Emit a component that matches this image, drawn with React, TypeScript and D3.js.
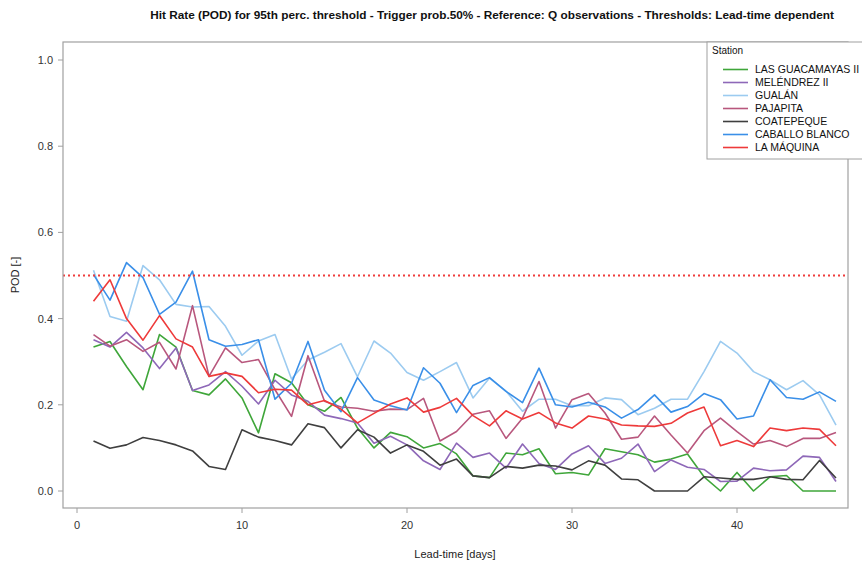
import React from "react";
import * as d3 from "d3";

const leadTimes = d3.range(1, 47);

const stations = [
  "LAS GUACAMAYAS II",
  "MELÉNDREZ II",
  "GUALÁN",
  "PAJAPITA",
  "COATEPEQUE",
  "CABALLO BLANCO",
  "LA MÁQUINA",
];

const colors = ["#3FA63A", "#8E68B8", "#9CCBF0", "#B8577D", "#3F3F3F", "#3A8FE8", "#EE3A3A"];

const guacamayas = [0.334, 0.347, 0.289, 0.235, 0.363, 0.334, 0.233, 0.223, 0.26, 0.216, 0.135, 0.272, 0.251, 0.2, 0.185, 0.217, 0.146, 0.1, 0.136, 0.126, 0.1, 0.11, 0.086, 0.035, 0.031, 0.088, 0.084, 0.098, 0.04, 0.043, 0.037, 0.098, 0.091, 0.084, 0.067, 0.074, 0.086, 0.033, 0, 0.043, 0, 0.033, 0.036, 0, 0, 0];
const melendrez = [0.351, 0.334, 0.368, 0.332, 0.284, 0.332, 0.233, 0.246, 0.277, 0.243, 0.202, 0.257, 0.223, 0.208, 0.176, 0.168, 0.158, 0.111, 0.127, 0.107, 0.07, 0.05, 0.111, 0.078, 0.088, 0.053, 0.109, 0.064, 0.05, 0.086, 0.105, 0.064, 0.076, 0.109, 0.045, 0.072, 0.055, 0.05, 0.022, 0.023, 0.053, 0.047, 0.049, 0.081, 0.078, 0.022];
const gualan = [0.512, 0.405, 0.394, 0.523, 0.49, 0.433, 0.427, 0.428, 0.382, 0.315, 0.348, 0.363, 0.26, 0.304, 0.322, 0.342, 0.265, 0.348, 0.32, 0.275, 0.257, 0.277, 0.298, 0.216, 0.262, 0.232, 0.185, 0.213, 0.213, 0.198, 0.198, 0.216, 0.212, 0.177, 0.192, 0.213, 0.213, 0.277, 0.347, 0.32, 0.277, 0.258, 0.235, 0.256, 0.223, 0.153];
const pajapita = [0.363, 0.336, 0.351, 0.324, 0.345, 0.283, 0.43, 0.266, 0.332, 0.298, 0.305, 0.235, 0.173, 0.314, 0.208, 0.195, 0.192, 0.185, 0.19, 0.189, 0.215, 0.116, 0.138, 0.178, 0.186, 0.122, 0.169, 0.254, 0.146, 0.212, 0.226, 0.181, 0.12, 0.125, 0.174, 0.13, 0.088, 0.14, 0.169, 0.138, 0.109, 0.117, 0.103, 0.122, 0.122, 0.136];
const coatepeque = [0.116, 0.099, 0.107, 0.124, 0.117, 0.107, 0.093, 0.057, 0.05, 0.142, 0.125, 0.117, 0.107, 0.156, 0.147, 0.1, 0.142, 0.125, 0.088, 0.107, 0.092, 0.06, 0.074, 0.035, 0.031, 0.057, 0.053, 0.06, 0.058, 0.049, 0.07, 0.06, 0.028, 0.026, 0, 0, 0, 0.033, 0.03, 0.027, 0.027, 0.033, 0.027, 0.026, 0.071, 0.03];
const caballo = [0.502, 0.443, 0.53, 0.495, 0.41, 0.438, 0.51, 0.351, 0.336, 0.34, 0.351, 0.213, 0.25, 0.347, 0.234, 0.184, 0.263, 0.211, 0.198, 0.188, 0.286, 0.25, 0.182, 0.245, 0.263, 0.231, 0.205, 0.285, 0.2, 0.195, 0.206, 0.195, 0.169, 0.189, 0.223, 0.183, 0.196, 0.226, 0.212, 0.167, 0.174, 0.258, 0.217, 0.213, 0.23, 0.208];
const maquina = [0.44, 0.49, 0.4, 0.35, 0.407, 0.353, 0.334, 0.266, 0.274, 0.266, 0.228, 0.236, 0.234, 0.2, 0.21, 0.19, 0.158, 0.18, 0.202, 0.216, 0.183, 0.194, 0.215, 0.175, 0.151, 0.186, 0.167, 0.182, 0.158, 0.146, 0.174, 0.167, 0.153, 0.151, 0.15, 0.157, 0.181, 0.195, 0.105, 0.117, 0.103, 0.146, 0.14, 0.146, 0.143, 0.105];

const seriesValues = [guacamayas, melendrez, gualan, pajapita, coatepeque, caballo, maquina];

const xTicks = [0, 10, 20, 30, 40];
const yTicks = [0, 0.2, 0.4, 0.6, 0.8, 1.0];
const triggerLine = 0.5;

const W = 862;
const H = 568;
const frame = { left: 63, right: 848, top: 42, bottom: 508 };

export default function App() {
  const x = d3.scaleLinear().domain([0, 40]).range([77, 737]);
  const y = d3.scaleLinear().domain([0, 1]).range([491, 60]);
  const line = d3
    .line<number>()
    .x((_, i) => x(leadTimes[i]))
    .y((v) => y(v));
  const font = "Liberation Sans, Arial, Helvetica, sans-serif";
  const legendY0 = 73;
  const legendStep = 13;

  return (
    <svg
      width={W}
      height={H}
      style={{ position: "absolute", left: 0, top: 0, background: "#fff" }}
      fontFamily={font}
    >
      <rect x={0} y={0} width={W} height={H} fill="#fff" />
      <text x={492} y={19} textAnchor="middle" fontSize={11.8} fontWeight="bold" fill="#111">
        Hit Rate (POD) for 95th perc. threshold - Trigger prob.50% - Reference: Q observations - Thresholds: Lead-time dependent
      </text>

      {seriesValues.map((vals, i) => (
        <path
          key={stations[i]}
          d={line(vals) || ""}
          fill="none"
          stroke={colors[i]}
          strokeWidth={1.6}
          strokeLinejoin="round"
        />
      ))}

      <line
        x1={frame.left}
        x2={frame.right}
        y1={y(triggerLine)}
        y2={y(triggerLine)}
        stroke="#F03C3C"
        strokeWidth={1.8}
        strokeDasharray="2,3"
      />

      <rect
        x={frame.left}
        y={frame.top}
        width={frame.right - frame.left}
        height={frame.bottom - frame.top}
        fill="none"
        stroke="#A0A0A0"
        strokeWidth={1.2}
      />

      {yTicks.map((t) => (
        <g key={"y" + t}>
          <line x1={frame.left - 5} x2={frame.left} y1={y(t)} y2={y(t)} stroke="#A0A0A0" />
          <text x={frame.left - 10} y={y(t) + 4} textAnchor="end" fontSize={11} fill="#333">
            {t.toFixed(1)}
          </text>
        </g>
      ))}
      {xTicks.map((t) => (
        <g key={"x" + t}>
          <line x1={x(t)} x2={x(t)} y1={frame.bottom} y2={frame.bottom + 5} stroke="#A0A0A0" />
          <text x={x(t)} y={frame.bottom + 21} textAnchor="middle" fontSize={11} fill="#333">
            {t}
          </text>
        </g>
      ))}

      <text x={455} y={558} textAnchor="middle" fontSize={11} fill="#222">
        Lead-time [days]
      </text>
      <text
        transform={`translate(19,275) rotate(-90)`}
        textAnchor="middle"
        fontSize={11}
        fill="#222"
      >
        POD [-]
      </text>

      <rect x={707} y={frame.top} width={170} height={117} fill="#fff" stroke="#A0A0A0" strokeWidth={1} />
      <text x={712} y={54} fontSize={10} fill="#111">
        Station
      </text>
      {stations.map((s, i) => (
        <g key={"leg" + s}>
          <line
            x1={723}
            x2={748}
            y1={legendY0 + i * legendStep - 3.5}
            y2={legendY0 + i * legendStep - 3.5}
            stroke={colors[i]}
            strokeWidth={1.6}
          />
          <text x={755} y={legendY0 + i * legendStep} fontSize={10.5} fill="#111">
            {s}
          </text>
        </g>
      ))}
    </svg>
  );
}
